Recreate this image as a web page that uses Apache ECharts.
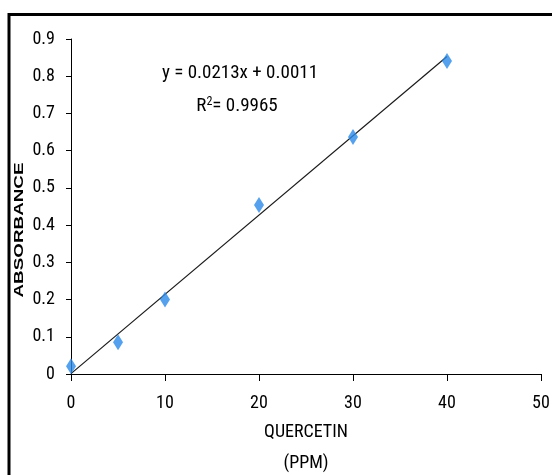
<!DOCTYPE html>
<html>
<head>
<meta charset="utf-8">
<script src="https://cdn.jsdelivr.net/npm/echarts@6/dist/echarts.min.js"></script>
<style>
html,body{margin:0;padding:0;background:#fff;}
#chart{width:552px;height:475px;}
</style>
</head>
<body>
<div id="chart"></div>
<script>
// measured points
var conc = [0, 5, 10, 20, 30, 40];
var absorb = [0.021, 0.085, 0.2, 0.454, 0.637, 0.841];
// trendline end points
var trendX = [0, 40];
var trendY = [0.0011, 0.8531];
var eqText = 'y = 0.0213x + 0.0011';
var r2Text = '0.9965';

var narrow = '"Roboto Condensed", "DejaVu Sans Condensed", sans-serif';

var pts = [];
for (var i = 0; i < conc.length; i++) {
    pts[i] = [conc[i], absorb[i]];
}
var trend = [];
for (var j = 0; j < trendX.length; j++) {
    trend[j] = [trendX[j], trendY[j]];
}

var option = {
    animation: false,
    backgroundColor: '#fff',
    grid: {left: 71, right: 11, top: 39, bottom: 101, containLabel: false, outerBoundsMode: 'none'},
    xAxis: {
        type: 'value',
        min: 0, max: 50, interval: 10,
        name: 'QUERCETIN\n(PPM)',
        nameLocation: 'middle',
        nameGap: 42,
        nameTextStyle: {color: '#000', fontFamily: narrow, fontSize: 18, lineHeight: 31},
        axisLine: {lineStyle: {color: '#000', width: 1}},
        axisTick: {show: true, inside: false, length: 7, lineStyle: {color: '#000'}},
        axisLabel: {color: '#000', fontFamily: narrow, fontSize: 18, margin: 20},
        splitLine: {show: false}
    },
    yAxis: {
        type: 'value',
        min: 0, max: 0.9, interval: 0.1,
        axisLine: {show: true, lineStyle: {color: '#000', width: 1}},
        axisTick: {show: true, inside: false, length: 5, lineStyle: {color: '#000'}},
        axisLabel: {color: '#000', fontFamily: narrow, fontSize: 18, margin: 16},
        splitLine: {show: false}
    },
    series: [
        {
            name: 'trend',
            type: 'line',
            data: trend,
            symbol: 'none',
            lineStyle: {color: '#1a1a1a', width: 1.2},
            z: 2
        },
        {
            name: 'absorbance',
            type: 'scatter',
            data: pts,
            symbol: 'diamond',
            symbolSize: [10, 16],
            itemStyle: {color: '#2a8ae8'},
            z: 3
        }
    ],
    graphic: [
        {type: 'line', shape: {x1: 8, y1: 14.5, x2: 552, y2: 14.5}, style: {stroke: '#000', lineWidth: 3}},
        {type: 'line', shape: {x1: 9, y1: 13, x2: 9, y2: 475}, style: {stroke: '#000', lineWidth: 3}},
        {
            type: 'text', x: 19.5, y: 230, rotation: Math.PI / 2, scaleX: 1.45,
            style: {text: 'ABSORBANCE', fill: '#000', font: 'bold 13px "Liberation Sans", Arial, sans-serif', align: 'center', verticalAlign: 'middle'}
        },
        {
            type: 'text', x: 240, y: 73,
            style: {text: eqText, fill: '#000', font: '19px ' + narrow, align: 'center', verticalAlign: 'middle'}
        },
        {
            type: 'text', x: 237, y: 106,
            style: {
                text: '{a|R}{s|2}{a|= ' + r2Text + '}',
                align: 'center', verticalAlign: 'middle',
                rich: {
                    a: {fill: '#000', fontFamily: narrow, fontSize: 19, verticalAlign: 'bottom'},
                    s: {fill: '#000', fontFamily: narrow, fontSize: 12, verticalAlign: 'top', padding: [0, 0, 8, 0]}
                }
            }
        }
    ]
};

var chart = echarts.init(document.getElementById('chart'));
chart.setOption(option);
</script>
</body>
</html>
